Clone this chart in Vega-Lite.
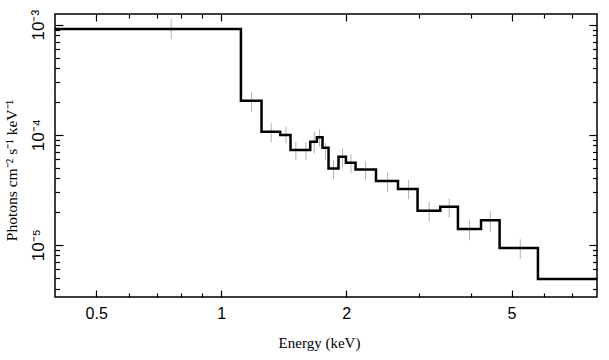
{
  "$schema": "https://vega.github.io/schema/vega-lite/v6.json",
  "width": 542,
  "height": 283,
  "autosize": "none",
  "padding": {"left": 55, "top": 14, "right": 12, "bottom": 63},
  "background": "white",
  "view": {"stroke": "black", "strokeWidth": 1.5},
  "config": {
    "axis": {
      "domain": false,
      "grid": false,
      "tickColor": "black",
      "tickWidth": 1.2,
      "labelFont": "Liberation Sans",
      "labelFontSize": 16,
      "labelColor": "black",
      "titleFont": "Liberation Serif",
      "titleFontWeight": "normal",
      "titleFontSize": 14,
      "titleColor": "black",
      "labelOverlap": false,
      "labelFlush": false,
      "labelBound": false
    }
  },
  "datasets": {
    "model": [
      {"E": 0.398, "f": 9.14e-4},
      {"E": 1.1155, "f": 2.04e-4},
      {"E": 1.2504, "f": 1.065e-4},
      {"E": 1.387, "f": 9.93e-5},
      {"E": 1.4684, "f": 7.26e-5},
      {"E": 1.5499, "f": 7.26e-5},
      {"E": 1.638, "f": 8.63e-5},
      {"E": 1.700, "f": 9.47e-5},
      {"E": 1.7535, "f": 7.62e-5},
      {"E": 1.8131, "f": 4.94e-5},
      {"E": 1.9159, "f": 6.31e-5},
      {"E": 1.9968, "f": 5.56e-5},
      {"E": 2.1059, "f": 4.84e-5},
      {"E": 2.3584, "f": 3.79e-5},
      {"E": 2.6644, "f": 3.21e-5},
      {"E": 2.9697, "f": 2.04e-5},
      {"E": 3.3685, "f": 2.21e-5},
      {"E": 3.7148, "f": 1.39e-5},
      {"E": 4.222, "f": 1.667e-5},
      {"E": 4.6799, "f": 9.33e-6},
      {"E": 5.788, "f": 4.88e-6},
      {"E": 8.03, "f": 4.88e-6}
    ],
    "err": [
      {"E": 0.758, "lo": 7.37e-4, "hi": 1.12e-3},
      {"E": 1.183, "lo": 1.62e-4, "hi": 2.43e-4},
      {"E": 1.3194, "lo": 8.53e-5, "hi": 1.27e-4},
      {"E": 1.4316, "lo": 8.36e-5, "hi": 1.18e-4},
      {"E": 1.5125, "lo": 5.89e-5, "hi": 8.63e-5},
      {"E": 1.5993, "lo": 5.89e-5, "hi": 8.63e-5},
      {"E": 1.6748, "lo": 6.78e-5, "hi": 1.065e-4},
      {"E": 1.7248, "lo": 7.78e-5, "hi": 1.12e-4},
      {"E": 1.7832, "lo": 5.89e-5, "hi": 8.36e-5},
      {"E": 1.8637, "lo": 3.94e-5, "hi": 5.89e-5},
      {"E": 1.9596, "lo": 5.06e-5, "hi": 7.52e-5},
      {"E": 2.0528, "lo": 4.46e-5, "hi": 6.64e-5},
      {"E": 2.2258, "lo": 3.87e-5, "hi": 5.69e-5},
      {"E": 2.5143, "lo": 3.03e-5, "hi": 4.55e-5},
      {"E": 2.8249, "lo": 2.59e-5, "hi": 3.87e-5},
      {"E": 3.1685, "lo": 1.62e-5, "hi": 2.46e-5},
      {"E": 3.54, "lo": 1.76e-5, "hi": 2.64e-5},
      {"E": 3.962, "lo": 1.1e-5, "hi": 1.68e-5},
      {"E": 4.4437, "lo": 1.31e-5, "hi": 2.02e-5},
      {"E": 5.2476, "lo": 7.4e-6, "hi": 1.12e-5}
    ]
  },
  "layer": [
    {
      "data": {"name": "err"},
      "mark": {"type": "rule", "color": "#b3b3b3", "strokeWidth": 1},
      "encoding": {
        "x": {
          "field": "E", "type": "quantitative",
          "scale": {"type": "log", "domain": [0.398, 8.03], "nice": false},
          "axis": {
            "orient": "bottom",
            "values": [0.5, 0.6, 0.7, 0.8, 0.9, 1, 2, 3, 4, 5, 6, 7],
            "labelExpr": "indexof([0.5, 1, 2, 5], datum.value) >= 0 ? format(datum.value, '~g') : ''",
            "tickSize": {"condition": {"test": "indexof([0.5, 1, 2, 5], datum.value) >= 0", "value": -7}, "value": -4},
            "labelPadding": 15,
            "title": "Energy (keV)",
            "titleFontSize": 15,
            "titleX": 264,
            "titlePadding": 11
          }
        },
        "y": {
          "field": "lo", "type": "quantitative",
          "scale": {"type": "log", "domain": [3.35e-6, 1.25e-3], "nice": false},
          "axis": {
            "orient": "left",
            "values": [4e-6, 5e-6, 6e-6, 7e-6, 8e-6, 9e-6, 1e-5, 2e-5, 3e-5, 4e-5, 5e-5, 6e-5, 7e-5, 8e-5, 9e-5, 1e-4, 2e-4, 3e-4, 4e-4, 5e-4, 6e-4, 7e-4, 8e-4, 9e-4, 1e-3],
            "labelExpr": "datum.value == 0.001 ? '10⁻³' : datum.value == 0.0001 ? '10⁻⁴' : datum.value == 0.00001 ? '10⁻⁵' : ''",
            "tickSize": {"condition": {"test": "datum.value == 0.001 || datum.value == 0.0001 || datum.value == 0.00001", "value": -8}, "value": -4.5},
            "labelAngle": -90,
            "labelFontSize": 17,
            "labelPadding": 16,
            "title": "Photons cm⁻² s⁻¹ keV⁻¹",
            "titleFontSize": 15.5,
            "titleY": 156,
            "titlePadding": 6
          }
        },
        "y2": {"field": "hi"}
      }
    },
    {
      "data": {"name": "model"},
      "mark": {"type": "line", "interpolate": "step-after", "color": "black", "strokeWidth": 2.5},
      "encoding": {
        "x": {
          "field": "E", "type": "quantitative",
          "axis": {
            "orient": "top",
            "values": [0.5, 0.6, 0.7, 0.8, 0.9, 1, 2, 3, 4, 5, 6, 7],
            "labels": false,
            "tickSize": {"condition": {"test": "indexof([0.5, 1, 2, 5], datum.value) >= 0", "value": -7}, "value": -4},
            "title": null
          }
        },
        "y": {
          "field": "f", "type": "quantitative",
          "axis": {
            "orient": "right",
            "values": [4e-6, 5e-6, 6e-6, 7e-6, 8e-6, 9e-6, 1e-5, 2e-5, 3e-5, 4e-5, 5e-5, 6e-5, 7e-5, 8e-5, 9e-5, 1e-4, 2e-4, 3e-4, 4e-4, 5e-4, 6e-4, 7e-4, 8e-4, 9e-4, 1e-3],
            "labels": false,
            "tickSize": {"condition": {"test": "datum.value == 0.001 || datum.value == 0.0001 || datum.value == 0.00001", "value": -8}, "value": -4.5},
            "title": null
          }
        }
      }
    }
  ],
  "resolve": {"axis": {"x": "independent", "y": "independent"}}
}
